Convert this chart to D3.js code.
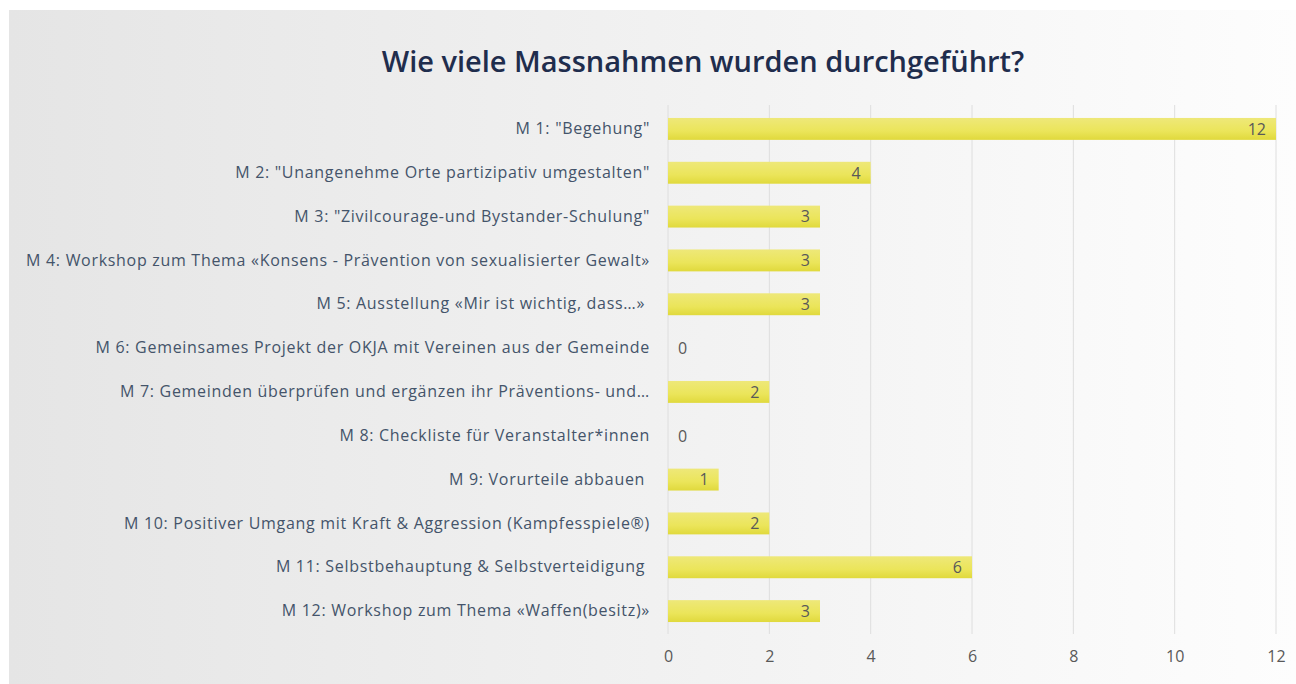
<!DOCTYPE html>
<html>
<head>
<meta charset="utf-8">
<script src="https://cdn.jsdelivr.net/npm/d3@7"></script>
<style>
  body { margin: 0; background: #ffffff; }
  svg text { font-family: "Open Sans", "Noto Sans", sans-serif; }
</style>
</head>
<body>
<div id="chart"></div>
<script>
// chart data
var categories = [
  'M 1: "Begehung"',
  'M 2: "Unangenehme Orte partizipativ umgestalten"',
  'M 3: "Zivilcourage-und Bystander-Schulung"',
  "M 4: Workshop zum Thema «Konsens - Prävention von sexualisierter Gewalt»",
  "M 5: Ausstellung «Mir ist wichtig, dass…» ",
  "M 6: Gemeinsames Projekt der OKJA mit Vereinen aus der Gemeinde",
  "M 7: Gemeinden überprüfen und ergänzen ihr Präventions- und…",
  "M 8: Checkliste für Veranstalter*innen",
  "M 9: Vorurteile abbauen ",
  "M 10: Positiver Umgang mit Kraft & Aggression (Kampfesspiele®)",
  "M 11: Selbstbehauptung & Selbstverteidigung ",
  "M 12: Workshop zum Thema «Waffen(besitz)»"
];
var counts = [12, 4, 3, 3, 3, 0, 2, 0, 1, 2, 6, 3];
var xTicks = [0, 2, 4, 6, 8, 10, 12];
var title = "Wie viele Massnahmen wurden durchgeführt?";

var width = 1296;
var height = 684;
var margin = {left: 668, top: 107, right: 20, bottom: 51};

var svg = d3.select("#chart")
  .append("svg")
  .attr("width", width)
  .attr("height", height);

// panel background, light grey to white
var defs = svg.append("defs");
var bg = defs.append("linearGradient").attr("id", "bg")
  .attr("x1", "0%").attr("x2", "100%").attr("y1", "0%").attr("y2", "0%");
bg.append("stop").attr("offset", "0%").attr("stop-color", "#e5e5e5");
bg.append("stop").attr("offset", "100%").attr("stop-color", "#fdfdfd");

var barGrad = defs.append("linearGradient").attr("id", "barGrad")
  .attr("x1", "0%").attr("x2", "0%").attr("y1", "0%").attr("y2", "100%");
barGrad.append("stop").attr("offset", "0%").attr("stop-color", "#eee879");
barGrad.append("stop").attr("offset", "60%").attr("stop-color", "#ebe55a");
barGrad.append("stop").attr("offset", "100%").attr("stop-color", "#e0d93c");

svg.append("rect")
  .attr("x", 9).attr("y", 10)
  .attr("width", width - 9).attr("height", height - 10)
  .attr("fill", "url(#bg)");

var x = d3.scaleLinear()
  .domain([0, 12])
  .range([margin.left, 1276]);

var y = d3.scaleBand()
  .domain(categories)
  .range([margin.top, height - margin.bottom])
  .paddingInner(0.5)
  .paddingOuter(0.25);

// gridlines
svg.append("g")
  .selectAll("line")
  .data(xTicks)
  .enter()
  .append("line")
  .attr("x1", function(d) { return x(d); })
  .attr("x2", function(d) { return x(d); })
  .attr("y1", 105)
  .attr("y2", 634)
  .attr("stroke", "#dedede")
  .attr("stroke-width", 1);

// bars
svg.append("g")
  .selectAll("rect")
  .data(counts)
  .enter()
  .append("rect")
  .attr("x", x(0))
  .attr("y", function(d, i) { return y(categories[i]); })
  .attr("width", function(d) { return x(d) - x(0); })
  .attr("height", y.bandwidth())
  .attr("fill", "url(#barGrad)");

// value labels
svg.append("g")
  .selectAll("text")
  .data(counts)
  .enter()
  .append("text")
  .attr("x", function(d) { return d === 0 ? x(0) + 10 : x(d) - 10; })
  .attr("y", function(d, i) { return y(categories[i]) + y.bandwidth() / 2; })
  .attr("dy", "0.36em")
  .attr("text-anchor", function(d) { return d === 0 ? "start" : "end"; })
  .attr("fill", "#595959")
  .style("font-size", "16px")
  .text(function(d) { return d; });

// category axis
var yAxis = d3.axisLeft(y).tickSize(0).tickPadding(18);
var gy = svg.append("g")
  .attr("transform", "translate(" + x(0) + ",0)")
  .call(yAxis);
gy.select(".domain").remove();
gy.selectAll("text")
  .attr("fill", "#44546a")
  .style("font-size", "16px")
  .style("letter-spacing", "0.7px")
  .style("white-space", "pre");

// value axis
var xAxis = d3.axisBottom(x).tickValues(xTicks).tickSize(0).tickPadding(0);
var gx = svg.append("g")
  .attr("transform", "translate(0,651)")
  .call(xAxis);
gx.select(".domain").remove();
gx.selectAll("text")
  .attr("fill", "#595959")
  .style("font-size", "16px");

// title
svg.append("text")
  .attr("x", 703)
  .attr("y", 72)
  .attr("text-anchor", "middle")
  .attr("fill", "#1f2d4d")
  .style("font-size", "29px")
  .style("font-weight", "600")
  .text(title);
</script>
</body>
</html>
